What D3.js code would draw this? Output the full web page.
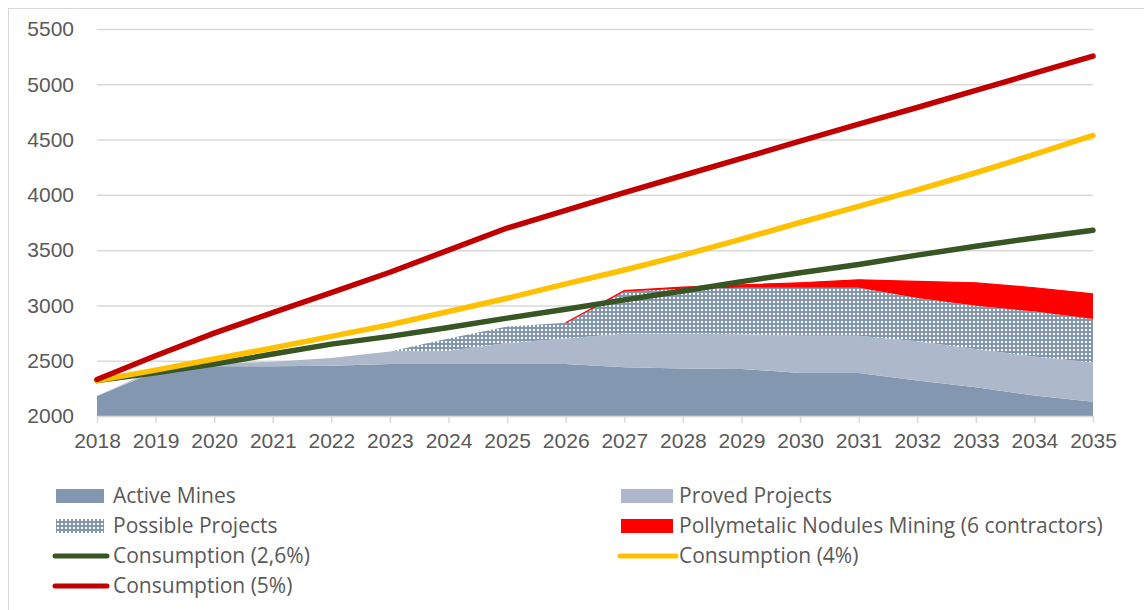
<!DOCTYPE html>
<html>
<head>
<meta charset="utf-8">
<script src="https://cdn.jsdelivr.net/npm/d3@7"></script>
<style>
  body { margin: 0; background: #fff; }
  svg { display: block; font-family: 'Open Sans', sans-serif; }
  .tick text { fill: #595959; font-size: 21px; }
</style>
</head>
<body>
<div id="chart"></div>
<script>
// years on the x axis
const years = [2018, 2019, 2020, 2021, 2022, 2023, 2024, 2025, 2026, 2027, 2028, 2029, 2030, 2031, 2032, 2033, 2034, 2035]

// stacked supply series (each one on top of the previous)
const activeMines = [2180, 2400, 2450, 2450, 2455, 2470, 2470, 2470, 2470, 2440, 2430, 2425, 2390, 2390, 2320, 2260, 2185, 2130]
const provedProjects = [0, 20, 30, 40, 70, 113, 120, 190, 230, 305, 315, 315, 335, 335, 355, 347, 352, 353]
const possibleProjects = [0, 0, 0, 0, 0, 0, 110, 150, 143, 381, 405, 420, 435, 435, 393, 389, 408, 394]
const nodulesMining = [0, 0, 0, 0, 0, 0, 0, 0, 0, 8, 15, 27, 45, 72, 149, 209, 215, 228]

// consumption lines
const consumption26 = [2320, 2390, 2470, 2560, 2650, 2720, 2800, 2885, 2965, 3050, 3130, 3215, 3295, 3370, 3455, 3535, 3610, 3680]
const consumption4 = [2320, 2415, 2515, 2615, 2720, 2825, 2945, 3065, 3195, 3320, 3455, 3600, 3750, 3895, 4045, 4200, 4365, 4537]
const consumption5 = [2330, 2545, 2750, 2935, 3115, 3300, 3500, 3700, 3860, 4020, 4175, 4330, 4485, 4640, 4790, 4945, 5100, 5255]

const yTicks = [2000, 2500, 3000, 3500, 4000, 4500, 5000, 5500]

const width = 1144,
  height = 610,
  plotLeft = 97,
  plotRight = 1093,
  plotTop = 29,
  plotBottom = 416

const svg = d3
  .select('#chart')
  .append('svg')
  .attr('width', width)
  .attr('height', height)

// pattern for possible projects
const pat = svg
  .append('defs')
  .append('pattern')
  .attr('id', 'dots')
  .attr('patternUnits', 'userSpaceOnUse')
  .attr('width', 4)
  .attr('height', 4)
pat.append('rect').attr('width', 4).attr('height', 4).attr('fill', '#8497b0')
pat.append('rect').attr('x', 1).attr('y', 1).attr('width', 2).attr('height', 2).attr('fill', '#fff')

// chart border
svg
  .append('rect')
  .attr('x', 8.5)
  .attr('y', 8.5)
  .attr('width', 1150)
  .attr('height', 620)
  .attr('fill', 'none')
  .attr('stroke', '#d9d9d9')

const x = d3.scaleLinear().domain([2018, 2035]).range([plotLeft, plotRight])
const y = d3.scaleLinear().domain([2000, 5500]).range([plotBottom, plotTop])

// gridlines + y labels
svg
  .append('g')
  .attr('transform', 'translate(' + plotLeft + ',0)')
  .call(
    d3
      .axisLeft(y)
      .tickValues(yTicks)
      .tickFormat(d3.format('d'))
      .tickSize(-(plotRight - plotLeft))
      .tickPadding(23)
  )
  .call(g => g.select('.domain').remove())
  .call(g => g.selectAll('.tick line').attr('stroke', '#d9d9d9').attr('stroke-width', 1.5))

// stacked areas
const table = years.map((yr, i) => ({
  year: yr,
  active: activeMines[i],
  proved: provedProjects[i],
  possible: possibleProjects[i],
  nodules: nodulesMining[i]
}))
const keys = ['active', 'proved', 'possible', 'nodules']
const fills = { active: '#8497b0', proved: '#adb9ca', possible: 'url(#dots)', nodules: '#ff0000' }

const stacked = d3.stack().keys(keys)(table)
const area = d3
  .area()
  .x(d => x(d.data.year))
  .y0(d => y(Math.max(d[0], 2000)))
  .y1(d => y(d[1]))

stacked.forEach(s => {
  svg
    .append('path')
    .datum(s)
    .attr('fill', fills[s.key])
    .attr('d', area)
})

// thin edge on top of the nodules area
const nod = stacked[3]
svg
  .append('path')
  .datum(nod.filter(d => d.data.year >= 2026))
  .attr('fill', 'none')
  .attr('stroke', '#ff0000')
  .attr('stroke-width', 1.2)
  .attr('d', d3.line().x(d => x(d.data.year)).y(d => y(d[1])))

// x axis
svg
  .append('g')
  .attr('transform', 'translate(0,' + plotBottom + ')')
  .call(
    d3
      .axisBottom(x)
      .tickValues(years)
      .tickFormat(d3.format('d'))
      .tickSize(7)
      .tickPadding(10)
  )
  .call(g => g.select('.domain').attr('stroke', '#d9d9d9').attr('stroke-width', 1.5).attr('d', 'M' + plotLeft + ',0.5H' + plotRight))
  .call(g => g.selectAll('.tick line').attr('stroke', '#d9d9d9').attr('stroke-width', 1.5))

// consumption lines
const lines = [
  { label: 'Consumption (2,6%)', color: '#375623', values: consumption26 },
  { label: 'Consumption (4%)', color: '#ffc000', values: consumption4 },
  { label: 'Consumption (5%)', color: '#c00000', values: consumption5 }
]
const line = d3
  .line()
  .x((d, i) => x(years[i]))
  .y(d => y(d))

lines.forEach(l => {
  svg
    .append('path')
    .datum(l.values)
    .attr('fill', 'none')
    .attr('stroke', l.color)
    .attr('stroke-width', 5.5)
    .attr('stroke-linecap', 'round')
    .attr('stroke-linejoin', 'round')
    .attr('d', line)
})

// legend
const legendItems = [
  { label: 'Active Mines', type: 'box', fill: '#8497b0' },
  { label: 'Proved Projects', type: 'box', fill: '#adb9ca' },
  { label: 'Possible Projects', type: 'box', fill: 'url(#dots)' },
  { label: 'Pollymetalic Nodules Mining (6 contractors)', type: 'box', fill: '#ff0000' },
  { label: lines[0].label, type: 'line', fill: lines[0].color },
  { label: lines[1].label, type: 'line', fill: lines[1].color },
  { label: lines[2].label, type: 'line', fill: lines[2].color }
]
const colX = [56, 621]
const rowY = [496, 526, 556, 586]

legendItems.forEach((item, i) => {
  const cx = colX[i % 2],
    cy = rowY[Math.floor(i / 2)]
  const g = svg.append('g').attr('transform', 'translate(' + cx + ',' + cy + ')')
  const w = i % 2 ? 52 : 48
  if (item.type === 'box') {
    g.append('rect').attr('x', 0).attr('y', -7).attr('width', w).attr('height', 14).attr('fill', item.fill)
  } else {
    g.append('line')
      .attr('x1', -1)
      .attr('x2', w + 3)
      .attr('stroke', item.fill)
      .attr('stroke-width', 5)
      .attr('stroke-linecap', 'round')
  }
  g.append('text')
    .attr('x', i % 2 ? 58 : 57)
    .attr('dy', '0.35em')
    .attr('fill', '#595959')
    .style('font-size', '21px')
    .text(item.label)
})
</script>
</body>
</html>
